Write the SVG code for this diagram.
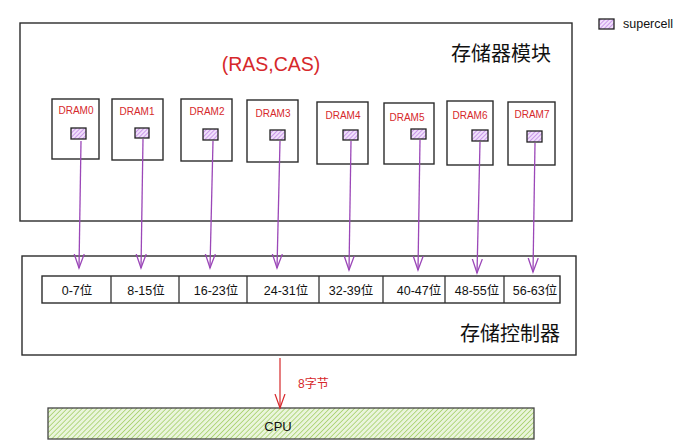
<svg xmlns="http://www.w3.org/2000/svg" width="676" height="447" viewBox="0 0 676 447">
<style>
.box{fill:none;stroke:#2b2b2b;stroke-width:1.4}
.cell{fill:url(#hp);stroke:#222;stroke-width:1.3}
.dl{font-family:"Liberation Sans",Arial,sans-serif;font-size:10px;fill:#d6282b;text-anchor:middle}
.bit{font-family:"Liberation Sans","Noto Sans CJK SC",sans-serif;font-size:12.5px;fill:#111;text-anchor:middle}
.big{font-family:"Liberation Sans","Noto Sans CJK SC",sans-serif;font-size:20px;fill:#111}
.pl{stroke:#9b47b8;stroke-width:1.3;fill:none}
</style>
<defs>
<pattern id="hp" width="3" height="3" patternUnits="userSpaceOnUse" patternTransform="rotate(45)">
<rect width="3" height="3" fill="#f1e0fb"/>
<line x1="0" y1="0" x2="0" y2="3" stroke="#b472e0" stroke-width="1.3"/>
</pattern>
<pattern id="hg" width="3.5" height="3.5" patternUnits="userSpaceOnUse" patternTransform="rotate(45)">
<rect width="3.5" height="3.5" fill="#eaf5dc"/>
<line x1="0" y1="0" x2="0" y2="3.5" stroke="#96c851" stroke-width="1.3"/>
</pattern>
<marker id="pa" markerWidth="16" markerHeight="14" refX="14" refY="6" orient="auto" markerUnits="userSpaceOnUse">
<path d="M0,1 L14,6 L0,11" fill="none" stroke="#9b47b8" stroke-width="1.3"/>
</marker>
<marker id="ra" markerWidth="16" markerHeight="14" refX="14" refY="6" orient="auto" markerUnits="userSpaceOnUse">
<path d="M0,1 L14,6 L0,11" fill="none" stroke="#d6282b" stroke-width="1.2"/>
</marker>
</defs>

<g id="legend">
<rect x="599" y="19" width="15" height="10" class="cell"/>
<text x="623" y="28" font-family="'Liberation Sans',Arial,sans-serif" font-size="12.5" fill="#111">supercell</text>
</g>

<g id="module">
<rect x="20" y="23" width="552" height="198" class="box" stroke="#555"/>
<text x="451" y="61" class="big">存储器模块</text>
<text x="271" y="71" font-family="'Liberation Sans',Arial,sans-serif" font-size="19.5" fill="#d6282b" text-anchor="middle">(RAS,CAS)</text>
</g>

<g id="dram0"><rect x="52" y="99" width="47" height="60" class="box"/><text x="76" y="114" class="dl">DRAM0</text><rect x="71" y="128" width="15" height="11" class="cell"/></g>
<g id="dram1"><rect x="112" y="99" width="51" height="61" class="box"/><text x="137" y="115" class="dl">DRAM1</text><rect x="135" y="128" width="14" height="10" class="cell"/></g>
<g id="dram2"><rect x="181" y="99" width="51" height="62" class="box"/><text x="207" y="115" class="dl">DRAM2</text><rect x="203" y="129" width="15" height="11" class="cell"/></g>
<g id="dram3"><rect x="247" y="100" width="51" height="62" class="box"/><text x="273" y="117" class="dl">DRAM3</text><rect x="270" y="130" width="15" height="10" class="cell"/></g>
<g id="dram4"><rect x="317" y="102" width="51" height="62" class="box"/><text x="343" y="119" class="dl">DRAM4</text><rect x="343" y="130" width="15" height="10" class="cell"/></g>
<g id="dram5"><rect x="384" y="103" width="50" height="61" class="box"/><text x="407" y="121" class="dl">DRAM5</text><rect x="411" y="129" width="15" height="10" class="cell"/></g>
<g id="dram6"><rect x="447" y="101" width="46" height="64" class="box"/><text x="470" y="119" class="dl">DRAM6</text><rect x="472" y="130" width="16" height="11" class="cell"/></g>
<g id="dram7"><rect x="508" y="102" width="47" height="63" class="box"/><text x="532" y="118" class="dl">DRAM7</text><rect x="527" y="131" width="15" height="11" class="cell"/></g>

<g id="controller">
<rect x="22" y="256" width="554" height="99" class="box"/>
<rect x="42" y="276" width="518" height="27" class="box" stroke="#444"/>
<g stroke="#333" stroke-width="1.3">
<line x1="111" y1="276" x2="111" y2="303"/>
<line x1="179" y1="276" x2="179" y2="303"/>
<line x1="247" y1="276" x2="247" y2="303"/>
<line x1="319" y1="276" x2="319" y2="303"/>
<line x1="383" y1="276" x2="383" y2="303"/>
<line x1="445" y1="276" x2="445" y2="303"/>
<line x1="504" y1="276" x2="504" y2="303"/>
</g>
<text x="77" y="295" class="bit">0-7位</text>
<text x="146" y="295" class="bit">8-15位</text>
<text x="216" y="295" class="bit">16-23位</text>
<text x="286" y="295" class="bit">24-31位</text>
<text x="351" y="295" class="bit">32-39位</text>
<text x="419" y="295" class="bit">40-47位</text>
<text x="477" y="295" class="bit">48-55位</text>
<text x="535" y="295" class="bit">56-63位</text>
<text x="460" y="341" class="big" font-size="21">存储控制器</text>
</g>

<g id="cpu">
<rect x="48" y="408" width="486" height="31" fill="url(#hg)" stroke="#444" stroke-width="1.3"/>
<text x="278" y="431" font-family="'Liberation Sans',Arial,sans-serif" font-size="13" fill="#111" text-anchor="middle">CPU</text>
</g>

<g id="connectors">
<line x1="81" y1="141" x2="79" y2="268" class="pl" marker-end="url(#pa)"/>
<line x1="143" y1="139" x2="141" y2="268" class="pl" marker-end="url(#pa)"/>
<line x1="213" y1="141" x2="210" y2="268" class="pl" marker-end="url(#pa)"/>
<line x1="280" y1="141" x2="277" y2="268" class="pl" marker-end="url(#pa)"/>
<line x1="351" y1="141" x2="349" y2="270" class="pl" marker-end="url(#pa)"/>
<line x1="420" y1="140" x2="418" y2="270" class="pl" marker-end="url(#pa)"/>
<line x1="480" y1="142" x2="477" y2="273" class="pl" marker-end="url(#pa)"/>
<line x1="535" y1="143" x2="533" y2="272" class="pl" marker-end="url(#pa)"/>
<line x1="280" y1="358" x2="280" y2="408" stroke="#d6282b" stroke-width="1.2" marker-end="url(#ra)"/>
<text x="298" y="388" font-family="'Liberation Sans','Noto Sans CJK SC',sans-serif" font-size="12" fill="#d6282b">8字节</text>
</g>
</svg>
